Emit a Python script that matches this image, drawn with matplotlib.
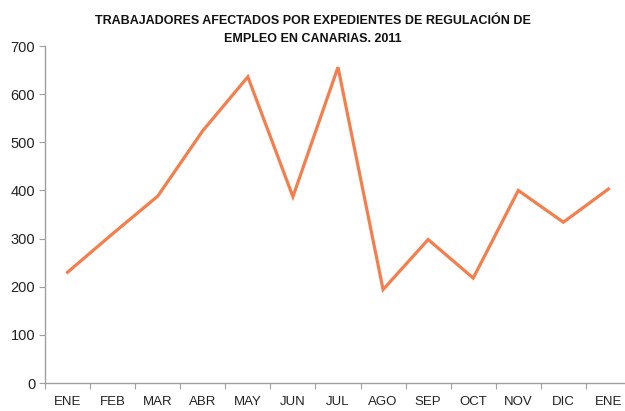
import matplotlib
matplotlib.use("Agg")
import matplotlib.pyplot as plt
import numpy as np

months = ["ENE", "FEB", "MAR", "ABR", "MAY", "JUN", "JUL", "AGO", "SEP", "OCT", "NOV", "DIC", "ENE"]
values = [230, 310, 388, 524, 636, 387, 656, 194, 298, 218, 400, 334, 403]
yticks = [0, 100, 200, 300, 400, 500, 600, 700]
title = "TRABAJADORES AFECTADOS POR EXPEDIENTES DE REGULACIÓN DE\nEMPLEO EN CANARIAS. 2011"

plt.rcParams['font.family'] = ['Liberation Sans', 'DejaVu Sans']

fig = plt.figure(figsize=(6.25, 4.11), dpi=100)
ax = fig.add_axes([45/625, 1 - 383/411, 586/625, 337/411])

x = np.arange(len(months))
ax.plot(x, values, color='#f47f4c', linewidth=2.3, solid_joinstyle='miter')

ax.set_xlim(-0.5, len(months) - 0.5)
ax.set_ylim(0, 700)
ax.set_yticks(yticks)
ax.set_yticklabels([str(t) for t in yticks], fontsize=10.5, color='#222222')

ax.set_xticks(np.arange(len(months) + 1) - 0.5)
ax.set_xticklabels([])
ax.set_xticks(x, minor=True)
ax.set_xticklabels(months, minor=True, fontsize=9.5, color='#222222')
ax.tick_params(axis='x', which='major', length=4, color='#a0a0a0', direction='out')
ax.tick_params(axis='x', which='minor', length=0, pad=9)
ax.tick_params(axis='y', length=4, color='#a0a0a0', direction='out', pad=3)

for s in ['top', 'right']:
    ax.spines[s].set_visible(False)
for s in ['left', 'bottom']:
    ax.spines[s].set_color('#a0a0a0')
    ax.spines[s].set_linewidth(1)

fig.text(0.5, 1 - 30/411, title, ha='center', va='center', fontsize=9,
         fontweight='bold', color='#111111', linespacing=1.6)

fig.savefig("out.png", dpi=100)
